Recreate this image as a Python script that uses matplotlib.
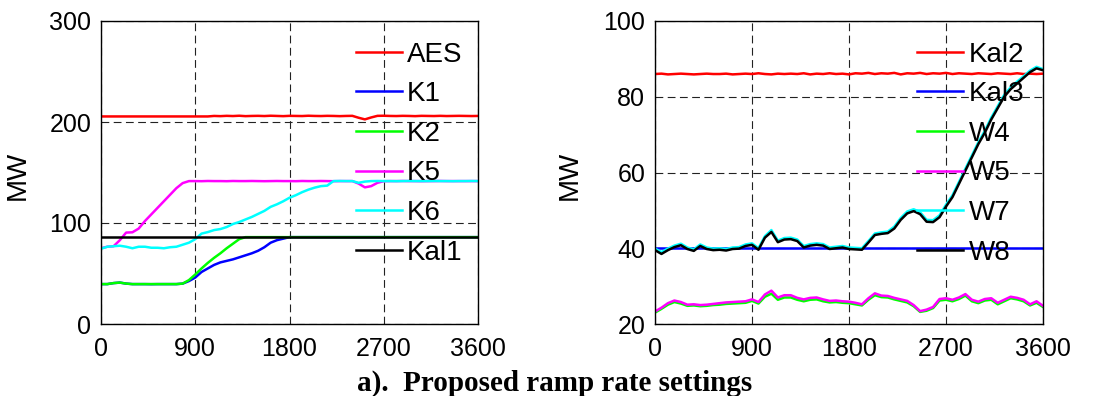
import matplotlib
matplotlib.use("Agg")
import matplotlib.pyplot as plt
import numpy as np

plt.rcParams['font.family'] = ['Liberation Sans', 'DejaVu Sans']

# time axis (s), 60-s samples
t = list(range(0, 3601, 60))

# ---------------- left panel ----------------
AES = ([205.5]*18 +
       [206.0, 205.8, 206.1, 205.9, 206.2, 205.8, 206.0, 206.1, 205.9, 206.2, 206.0, 205.8,
        206.1, 206.0, 205.9, 206.2, 206.0, 205.9, 206.1, 206.0, 205.8, 206.0, 206.1] +
       [204.2, 202.6, 204.5] +
       [206.1, 206.2, 206.0, 205.9, 206.1, 206.0, 205.8, 206.1, 206.0, 205.9, 206.1, 205.9,
        206.0, 206.1, 206.0, 205.9, 206.0])
K1 = [39.5, 39.5, 40.5, 41.0, 40.0, 39.5, 39.5, 39.5, 39.4, 39.5, 39.5, 39.5, 39.5, 40.0, 42.5, 46.0,
      51.5, 55.0, 58.5, 61.0, 62.5, 64.0, 66.0, 68.0, 70.0, 72.5, 76.0, 80.5, 83.0, 84.5, 86.0] + [86.0]*30
K2 = [39.5, 39.5, 40.5, 41.0, 40.0, 39.5, 39.5, 39.5, 39.5, 39.5, 39.5, 39.5, 39.5, 40.0, 43.5, 49.0,
      55.0, 60.5, 65.5, 70.0, 75.0, 79.5, 84.0, 86.0] + [86.0]*37
K5 = [75.0, 76.5, 77.0, 83.0, 90.5, 90.8, 94.5, 102.0, 108.5, 115.0, 121.5, 128.0, 134.5, 139.5, 141.5]
K5 += [141.5, 141.4, 141.6, 141.5, 141.5, 141.4, 141.6, 141.5, 141.5, 141.6, 141.5, 141.4, 141.5, 141.6,
       141.5, 141.5, 141.4, 141.6, 141.5, 141.5, 141.6, 141.5, 141.4, 141.5, 141.5, 141.5, 139.0, 135.3,
       136.5, 139.8, 141.4, 141.5, 141.5, 141.6, 141.5, 141.5, 141.4, 141.5, 141.5, 141.6, 141.5, 141.5,
       141.5, 141.5, 141.5, 141.5]
K6 = [74.5, 76.5, 77.0, 77.5, 76.5, 75.0, 76.5, 76.5, 75.5, 75.5, 75.0, 76.0, 76.5, 78.5, 80.5, 84.0,
      89.5, 91.0, 93.0, 94.0, 96.0, 99.0, 101.0, 103.5, 106.0, 109.0, 112.0, 116.0, 118.5, 121.5, 125.0,
      127.5, 130.5, 133.0, 135.0, 136.5, 137.0, 141.5, 141.6, 141.5, 141.5, 139.8, 141.0, 141.5, 141.6,
      141.5, 141.5, 141.4, 141.5, 141.6, 141.5, 141.5, 141.5, 141.6, 141.5, 141.5, 141.4, 141.5, 141.5,
      141.6, 141.5]
Kal1 = [86.0]*61

# ---------------- right panel ----------------
Kal2 = [86.0, 86.1, 85.9, 86.0, 86.1, 86.0, 85.9, 86.0, 86.1, 86.0, 86.0, 86.1, 85.9, 86.0, 86.1, 86.0,
        86.2, 86.0, 85.9, 86.1, 86.0, 86.1, 86.0, 86.2, 85.9, 86.1, 86.0, 86.2, 86.0, 86.1, 85.9, 86.2,
        86.1, 86.3, 86.0, 86.2, 86.1, 86.3, 85.9, 86.2, 86.1, 86.3, 86.0, 86.2, 86.1, 86.3, 86.0, 86.2,
        86.1, 86.0, 86.2, 86.1, 86.0, 86.2, 86.1, 86.0, 86.2, 86.0, 86.1, 86.0, 86.1]
Kal3 = [40.1]*61
W5 = [23.3, 24.3, 25.5, 26.2, 25.8, 25.1, 25.2, 25.0, 25.1, 25.3, 25.5, 25.7, 25.8, 25.9, 26.0, 26.5,
      25.8, 27.8, 28.8, 27.0, 27.6, 27.6, 26.9, 26.5, 26.9, 27.0, 26.5, 26.1, 26.2, 26.0, 25.9, 25.6,
      25.2, 26.8, 28.1, 27.5, 27.4, 26.9, 26.5, 26.1, 25.0, 23.4, 23.8, 24.5, 26.6, 26.8, 26.4, 27.0,
      27.9, 26.4, 25.9, 26.6, 26.8, 25.6, 26.4, 27.2, 26.9, 26.4, 25.2, 26.0, 24.8]
W4 = [23.0, 24.0, 25.1, 25.8, 25.4, 24.8, 24.9, 24.7, 24.8, 25.0, 25.1, 25.3, 25.4, 25.5, 25.6, 26.1,
      25.4, 27.2, 28.0, 26.4, 27.0, 27.0, 26.4, 26.0, 26.4, 26.5, 26.0, 25.7, 25.8, 25.6, 25.5, 25.2,
      24.9, 26.4, 27.6, 27.1, 27.0, 26.5, 26.1, 25.7, 24.7, 23.2, 23.5, 24.2, 26.2, 26.4, 26.0, 26.6,
      27.5, 26.0, 25.5, 26.2, 26.4, 25.2, 26.0, 26.8, 26.5, 26.0, 24.9, 25.6, 24.5]
W8 = [39.5, 38.5, 39.5, 40.3, 40.8, 39.8, 39.3, 40.6, 39.8, 39.5, 39.6, 39.4, 39.8, 39.9, 40.6, 40.9,
      39.6, 42.8, 44.3, 41.6, 42.3, 42.4, 41.9, 40.2, 40.7, 40.9, 40.7, 39.8, 40.0, 40.2, 39.8, 39.7,
      39.6, 41.5, 43.5, 43.8, 44.0, 45.2, 47.5, 49.2, 49.8, 49.0, 47.0, 46.9, 48.2, 51.0, 53.5, 57.0,
      60.5, 64.0, 67.5, 70.5, 74.0, 77.0, 80.0, 82.0, 83.5, 85.0, 86.5, 87.5, 87.0]
W7 = [39.9, 39.0, 39.9, 40.7, 41.2, 40.2, 39.7, 41.0, 40.2, 39.9, 40.0, 39.8, 40.2, 40.3, 41.0, 41.3,
      40.0, 43.2, 44.8, 42.0, 42.7, 42.8, 42.3, 40.6, 41.1, 41.3, 41.1, 40.2, 40.4, 40.6, 40.2, 40.1,
      40.0, 41.9, 43.9, 44.2, 44.4, 45.7, 48.0, 49.7, 50.3, 49.5, 47.5, 47.4, 48.7, 51.5, 54.0, 57.5,
      61.0, 64.5, 68.0, 71.0, 74.5, 77.5, 80.5, 82.5, 84.0, 85.4, 86.9, 87.9, 87.3]

left_labels = ['AES', 'K1', 'K2', 'K5', 'K6', 'Kal1']
right_labels = ['Kal2', 'Kal3', 'W4', 'W5', 'W7', 'W8']
colors = ['#ff0000', '#0000ff', '#00ff00', '#ff00ff', '#00ffff', '#000000']
xticks = [0, 900, 1800, 2700, 3600]
left_yticks = [0, 100, 200, 300]
right_yticks = [20, 40, 60, 80, 100]
caption = 'a).  Proposed ramp rate settings'

W, H = 1104, 396
fig = plt.figure(figsize=(W / 100, H / 100), dpi=100)
ax1 = fig.add_axes([101 / W, (H - 324) / H, 377 / W, 303 / H])
ax2 = fig.add_axes([655 / W, (H - 324) / H, 388 / W, 303 / H])

def style(ax, yticks, series, labels):
    for s, lab, c in zip(series, labels, colors):
        ax.plot(t, s, color=c, lw=1.8, label=lab)
    ax.set_xlim(0, 3600)
    ax.set_ylim(yticks[0], yticks[-1])
    ax.set_xticks(xticks)
    ax.set_yticks(yticks)
    ax.tick_params(labelsize=18, direction='in', length=0, pad=7)
    ax.tick_params(axis='x', pad=9)
    ax.grid(True, color='#222222', linestyle=(0, (7, 4)), linewidth=0.8)
    for sp in ax.spines.values():
        sp.set_linewidth(1.0)
    ax.set_ylabel('MW', fontsize=20)
    ax.yaxis.set_label_coords(-0.187, 0.49)
    ax.legend(loc='upper left', bbox_to_anchor=(0.676, 0.932), frameon=False,
              fontsize=20, borderpad=0, borderaxespad=0, handlelength=1.65,
              handletextpad=0.2, labelspacing=0.49)

style(ax1, left_yticks, [AES, K1, K2, K5, K6, Kal1], left_labels)
style(ax2, right_yticks, [Kal2, Kal3, W4, W5, W7, W8], right_labels)

fig.text(555 / W, 1 - 391 / H, caption, ha='center', va='baseline',
         fontsize=21, fontweight='bold', family=['Liberation Serif', 'DejaVu Serif'])

fig.savefig('out.png', dpi=100)
